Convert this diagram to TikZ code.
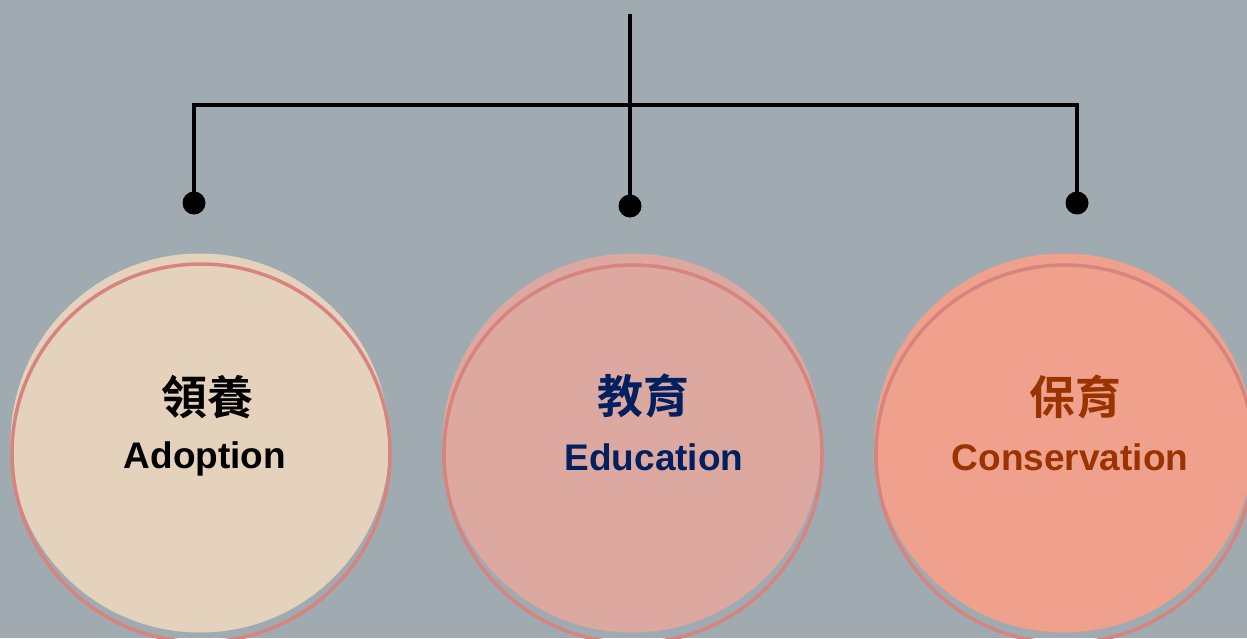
\documentclass[tikz,border=0pt]{standalone}
\usepackage{fontspec}
\setmainfont{Liberation Sans}
\newfontfamily\cjk{Noto Sans CJK TC}[BoldFont={* Bold}]
\definecolor{slate}{HTML}{A0AAB1}
\definecolor{sand}{HTML}{E5D2BD}
\definecolor{rose}{HTML}{DDA8A0}
\definecolor{salmon}{HTML}{F0A18D}
\definecolor{ringred}{HTML}{D8847E}
\definecolor{navy}{HTML}{002060}
\definecolor{rust}{HTML}{993300}
\tikzset{
  bubble/.style={circle,minimum size=379pt,inner sep=0pt},
  ring/.style={draw=ringred,line width=3.5pt},
  joint/.style={circle,fill=black,minimum size=23pt,inner sep=0pt},
  wire/.style={line width=4.5pt,line join=miter},
  zh/.style={font=\cjk\bfseries\fontsize{46}{50}\selectfont},
  en/.style={anchor=base,font=\bfseries\fontsize{37}{40}\selectfont}
}
\begin{document}
\begin{tikzpicture}[x=1pt,y=-1pt]
    % Sfondo
    \useasboundingbox (0,0) rectangle (1247,638);
    \fill[slate] (0,0) rectangle (1247,638);

    % Cerchi
    \node[bubble,fill=sand] (adopt) at (200,443) {};
    \draw[ring] (201,453) circle (189);
    \node[bubble,fill=rose] (educ) at (632,443) {};
    \draw[ring] (633,454) circle (189);
    \node[bubble,fill=salmon] (cons) at (1064,443) {};
    \draw[ring] (1065,454) circle (189);

    % Testi
    \node[zh,text=black] (adoptZh) at (207,397) {領養};
    \node[en,text=black] (adoptEn) at (205,468) {Adoption};
    \node[zh,text=navy] (educZh) at (643,396) {教育};
    \node[en,text=navy] (educEn) at (654,470) {Education};
    \node[zh,text=rust] (consZh) at (1075,397) {保育};
    \node[en,text=rust] (consEn) at (1070,470) {Conservation};

    % Albero di connessione
    \node[joint] (dotA) at (194,203) {};
    \node[joint] (dotB) at (630,206) {};
    \node[joint] (dotC) at (1077,203) {};
    \coordinate (top) at (630,14);
    \coordinate (barL) at (194,105);
    \coordinate (barR) at (1077,105);
    \draw[wire] (top) -- (dotB.center);
    \draw[wire] (dotA.center) -- (barL) -- (barR) -- (dotC.center);
\end{tikzpicture}
\end{document}
